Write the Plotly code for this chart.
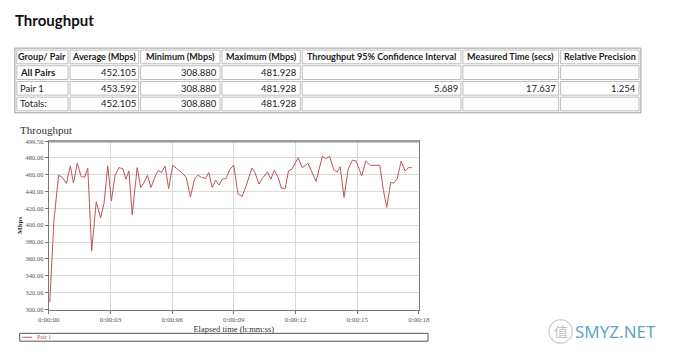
import plotly.graph_objects as go

# ---------------- data ----------------
page_title = "Throughput"
chart_title = "Throughput"
series_name = "Pair 1"

table_header = ["Group/ Pair", "Average (Mbps)", "Minimum (Mbps)", "Maximum (Mbps)",
                "Throughput 95% Confidence Interval", "Measured Time (secs)", "Relative Precision"]
table_rows = [
    ["All Pairs", "452.105", "308.880", "481.928", "", "", ""],
    ["Pair 1", "453.592", "308.880", "481.928", "5.689", "17.637", "1.254"],
    ["Totals:", "452.105", "308.880", "481.928", "", "", ""],
]
bold_first_cell = [True, False, False]

elapsed_s = [0.05, 0.25, 0.48, 0.67, 0.86, 1.05, 1.20, 1.39, 1.58, 1.75, 1.90, 2.09, 2.31, 2.52,
             2.69, 2.87, 3.05, 3.22, 3.41, 3.60, 3.75, 3.90, 4.06, 4.30, 4.47, 4.62, 4.80, 4.97,
             5.20, 5.34, 5.48, 5.66, 5.83, 6.03, 6.27, 6.50, 6.69, 6.89, 7.09, 7.25, 7.44, 7.63,
             7.78, 7.95, 8.12, 8.28, 8.44, 8.63, 8.81, 9.00, 9.20, 9.41, 9.60, 9.88, 10.03, 10.22,
             10.42, 10.64, 10.80, 10.97, 11.16, 11.31, 11.50, 11.66, 11.83, 12.13, 12.33, 12.61,
             13.00, 13.31, 13.47, 13.66, 13.86, 14.03, 14.17, 14.36, 14.56, 14.77, 14.95, 15.22,
             15.42, 15.63, 15.86, 16.10, 16.28, 16.44, 16.63, 16.78, 16.94, 17.14, 17.33, 17.50,
             17.66]
throughput_mbps = [308.88, 404.6, 459.2, 456.5, 449.4, 470.2, 449.9, 473.3, 457.6, 456.9, 467.5,
                   369.7, 427.8, 408.5, 426.0, 470.2, 429.0, 458.4, 468.2, 467.0, 454.5, 464.3,
                   412.4, 468.2, 444.7, 450.0, 459.2, 444.7, 459.2, 465.1, 462.3, 470.2, 443.5,
                   471.0, 466.3, 461.6, 456.5, 433.5, 454.5, 459.2, 456.5, 455.3, 462.3, 444.7,
                   453.4, 447.5, 454.5, 455.3, 466.3, 471.0, 436.9, 434.1, 446.7, 467.5, 462.3,
                   448.7, 456.5, 463.1, 454.5, 465.1, 456.5, 444.0, 443.5, 464.3, 466.3, 479.9,
                   468.2, 473.3, 451.8, 481.928, 478.7, 481.5, 465.5, 463.1, 469.3, 433.0, 466.3,
                   477.2, 476.0, 458.4, 476.0, 471.0, 471.0, 471.0, 440.8, 421.2, 450.6, 449.9,
                   454.5, 476.0, 464.3, 468.2, 468.2]

x_tick_vals = [0, 3, 6, 9, 12, 15, 18]
x_tick_labels = ["0:00:00", "0:00:03", "0:00:06", "0:00:09", "0:00:12", "0:00:15", "0:00:18"]
y_tick_vals = [300, 320, 340, 360, 380, 400, 420, 440, 460, 480, 499.5]
y_tick_labels = ["300.00", "320.00", "340.00", "360.00", "380.00", "400.00", "420.00",
                 "440.00", "460.00", "480.00", "499.50"]
x_title = "Elapsed time (h:mm:ss)"
y_title = "Mbps"

# ---------------- layout helpers ----------------
W, H = 680, 354
def px(x):
    return x / W
def py(y):
    return 1 - y / H

col_edges = [5, 60, 133, 217, 300, 466, 567, 650]
row_edges = [46, 62, 78, 94, 110]
plot_left, plot_right, plot_top, plot_bottom = 39, 421.5, 140, 311.7

TABLE_FONT = "Lato"
CHART_FONT = "Liberation Serif"
LINE_COLOR = "#c05458"

fig = go.Figure()
fig.add_trace(go.Scatter(x=elapsed_s, y=throughput_mbps, mode="lines", name=series_name,
                         line=dict(color=LINE_COLOR, width=1), showlegend=False))

shapes = []
annotations = []

# page title
annotations.append(dict(x=px(2), y=py(16), xref="paper", yref="paper", text="<b>%s</b>" % page_title,
                        showarrow=False, xanchor="left", yanchor="middle",
                        font=dict(family=TABLE_FONT, size=15, color="#111")))

# table
shapes.append(dict(type="rect", xref="paper", yref="paper", x0=px(col_edges[0] - 1), x1=px(col_edges[-1] + 1),
                   y0=py(row_edges[-1] + 1), y1=py(row_edges[0] - 1), line=dict(color="#9a9a9a", width=1)))
all_rows = [table_header] + table_rows
for r, row in enumerate(all_rows):
    y0, y1 = row_edges[r], row_edges[r + 1]
    yc = (y0 + y1) / 2
    for c, val in enumerate(row):
        x0, x1 = col_edges[c], col_edges[c + 1]
        shapes.append(dict(type="rect", xref="paper", yref="paper", x0=px(x0 + 1), x1=px(x1 - 1),
                           y0=py(y1 - 1), y1=py(y0 + 1), line=dict(color="#bdbdbd", width=1)))
        if not val:
            continue
        if r == 0:
            txt, xa, xp, fs = "<b>%s</b>" % val, "center", (x0 + x1) / 2, 9.1
        elif c == 0:
            txt = "<b>%s</b>" % val if bold_first_cell[r - 1] else val
            xa, xp, fs = "left", x0 + 2, 9.5
        else:
            txt, xa, xp, fs = val, "right", x1 - 2, 9.5
        annotations.append(dict(x=px(xp), y=py(yc), xref="paper", yref="paper", text=txt,
                                showarrow=False, xanchor=xa, yanchor="middle",
                                font=dict(family=TABLE_FONT, size=fs, color="#222")))

# chart title
annotations.append(dict(x=px(7), y=py(129), xref="paper", yref="paper", text=chart_title,
                        showarrow=False, xanchor="left", yanchor="middle",
                        font=dict(family=CHART_FONT, size=11, color="#333")))

# thick top border of plot
shapes.append(dict(type="line", xref="x domain", yref="y domain", x0=0, x1=1, y0=1, y1=1,
                   line=dict(color="#9a9a9a", width=2.5)))

# legend box
shapes.append(dict(type="rect", xref="paper", yref="paper", x0=px(9), x1=px(431), y0=py(344), y1=py(336),
                   line=dict(color="#555", width=1)))
shapes.append(dict(type="line", xref="paper", yref="paper", x0=px(12), x1=px(22), y0=py(340), y1=py(340),
                   line=dict(color=LINE_COLOR, width=1)))
annotations.append(dict(x=px(25), y=py(340), xref="paper", yref="paper", text=series_name,
                        showarrow=False, xanchor="left", yanchor="middle",
                        font=dict(family=CHART_FONT, size=6, color="#d04040")))

# watermark
shapes.append(dict(type="circle", xref="paper", yref="paper", x0=px(556), x1=px(580), y0=py(346), y1=py(322),
                   line=dict(color="#d4d4d4", width=1.5)))
annotations.append(dict(x=px(568), y=py(334), xref="paper", yref="paper", text="值",
                        showarrow=False, xanchor="center", yanchor="middle",
                        font=dict(family="Noto Sans CJK SC", size=14, color="#c4c4c4")))
annotations.append(dict(x=px(625), y=py(334), xref="paper", yref="paper", text="SMYZ.NET",
                        showarrow=False, xanchor="center", yanchor="middle",
                        font=dict(family="Noto Sans", size=17, color="rgba(70,145,185,0.85)")))

fig.update_layout(
    width=W, height=H, margin=dict(l=0, r=0, t=0, b=0),
    paper_bgcolor="white", plot_bgcolor="white",
    shapes=shapes, annotations=annotations, showlegend=False,
    xaxis=dict(domain=[px(plot_left), px(plot_right)], range=[0, 18],
               tickvals=x_tick_vals, ticktext=x_tick_labels, tickangle=0,
               showgrid=True, gridcolor="#d9d9d9", gridwidth=1, zeroline=False,
               showline=True, linecolor="#777", linewidth=1, mirror=True,
               ticks="outside", ticklen=3, tickcolor="#777",
               tickfont=dict(family=CHART_FONT, size=7, color="#555"),
               title=dict(text=x_title, standoff=3, font=dict(family=CHART_FONT, size=8.5, color="#333"))),
    yaxis=dict(domain=[py(plot_bottom), py(plot_top)], range=[300, 499.5],
               tickvals=y_tick_vals, ticktext=y_tick_labels,
               showgrid=True, gridcolor="#d9d9d9", gridwidth=1, zeroline=False,
               showline=True, linecolor="#777", linewidth=1, mirror=True,
               ticks="outside", ticklen=3, tickcolor="#777",
               tickfont=dict(family=CHART_FONT, size=6.5, color="#555"),
               title=dict(text="<b>%s</b>" % y_title, standoff=2, font=dict(family=CHART_FONT, size=7, color="#333"))),
)

fig.write_html("out.html")
